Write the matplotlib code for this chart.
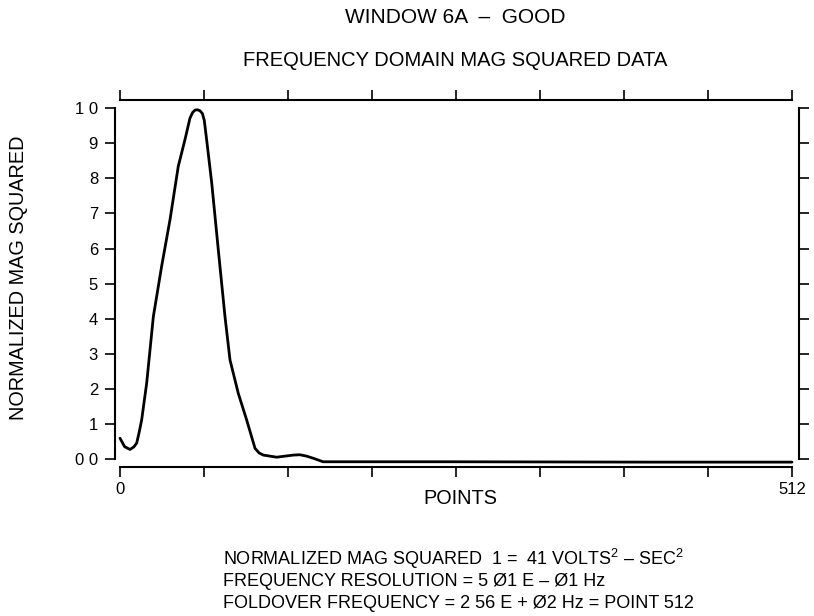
import matplotlib
matplotlib.use('Agg')
import matplotlib.pyplot as plt
from matplotlib.ticker import FixedLocator, FuncFormatter

plt.rcParams['font.family'] = ['Liberation Sans', 'DejaVu Sans']
plt.rcParams['mathtext.fontset'] = 'custom'
plt.rcParams['mathtext.rm'] = 'Liberation Sans'

# points (point index, normalized mag squared)
puntos = [0, 3.5, 7.6, 10.5, 12.7, 14.5, 16.5, 20.3, 25.4, 31.7, 38.1, 44.4,
          49.5, 53.3, 55.3, 57.1, 59, 61, 62.8, 64.2, 66, 69.9, 74.9, 80, 83.8,
          90.1, 96.5, 102.9, 106, 109.2, 119.4, 132, 137, 142.2, 148, 154.7,
          250, 400, 512]
magnitud = [0.06, 0.036, 0.028, 0.035, 0.046, 0.075, 0.112, 0.216, 0.406, 0.549,
            0.682, 0.834, 0.91, 0.971, 0.987, 0.994, 0.995, 0.992, 0.984, 0.965,
            0.91, 0.786, 0.596, 0.406, 0.283, 0.188, 0.112, 0.031, 0.018, 0.012,
            0.006, 0.012, 0.013, 0.009, 0.002, -0.007, -0.007, -0.008, -0.008]

ticks_x = [0, 64, 128, 192, 256, 320, 384, 448, 512]
ticks_y = [0.0, 0.1, 0.2, 0.3, 0.4, 0.5, 0.6, 0.7, 0.8, 0.9, 1.0]
etiquetas_y = ['0 0', '1', '2', '3', '4', '5', '6', '7', '8', '9', '1 0']

notas = [
    'NORMALIZED MAG SQUARED  1 =  41 VOLTS$\\mathregular{^2}$ \u2013 SEC$\\mathregular{^2}$',
    'FREQUENCY RESOLUTION = 5 \u00d81 E \u2013 \u00d81 Hz',
    'FOLDOVER FREQUENCY = 2 56 E + \u00d82 Hz = POINT 512',
]

W, H = 814, 616
fig = plt.figure(figsize=(W / 100, H / 100), dpi=100)
ax = fig.add_axes([120 / W, 1 - 459.3 / H, (792 - 120) / W, (459.3 - 108) / H])

ax.plot(puntos, magnitud, color='black', lw=2.0, solid_capstyle='round',
        solid_joinstyle='round', clip_on=False)
ax.set_xlim(0, 512)
ax.set_ylim(0, 1.0)

for lado, off in [('left', 3.6), ('bottom', 5.5), ('top', 5.8), ('right', 5.0)]:
    ax.spines[lado].set_position(('outward', off))
    ax.spines[lado].set_linewidth(1.5)

ax.xaxis.set_major_locator(FixedLocator(ticks_x))
ax.yaxis.set_major_locator(FixedLocator(ticks_y))
ax.xaxis.set_major_formatter(FuncFormatter(lambda v, p: '%d' % v if v in (0, 512) else ''))
ax.set_yticklabels(etiquetas_y)

ax.tick_params(axis='both', direction='out', width=1.2, length=7.2,
               labelsize=12, colors='black')
ax.tick_params(axis='x', pad=4, top=True, labeltop=False)
ax.tick_params(axis='y', pad=5, right=True, labelright=False)

fig.text(455 / W, 1 - 17.5 / H, 'WINDOW 6A  \u2013  GOOD', ha='center', va='center', fontsize=15)
fig.text(455 / W, 1 - 60 / H, 'FREQUENCY DOMAIN MAG SQUARED DATA', ha='center', va='center', fontsize=14.5)
fig.text(18.5 / W, 1 - 278 / H, 'NORMALIZED MAG SQUARED', rotation=90, ha='center', va='center', fontsize=14.3)
fig.text(460 / W, 1 - 499 / H, 'POINTS', ha='center', va='center', fontsize=14.3)

for i, linea in enumerate(notas):
    fig.text(223 / W, 1 - (558.5 + i * 22.5) / H, linea, ha='left', va='center', fontsize=13)

fig.savefig('out.png', dpi=100)
